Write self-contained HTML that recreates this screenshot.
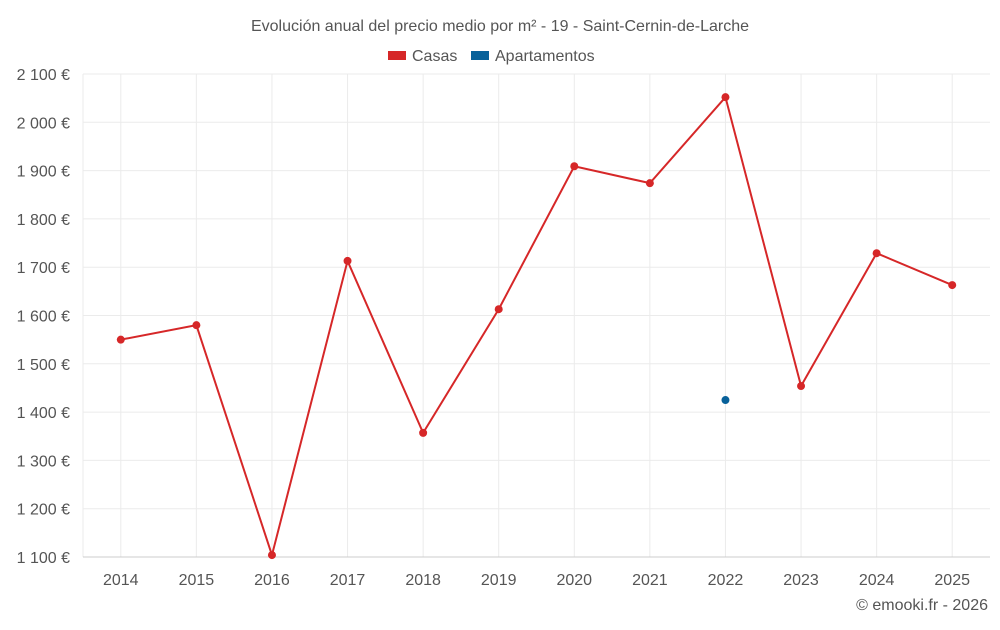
<!DOCTYPE html>
<html><head><meta charset="utf-8"><style>
body{margin:0;background:#fff;font-family:"Liberation Sans",sans-serif}
svg text{font-family:"Liberation Sans",sans-serif}
</style></head><body>
<svg id="chart" width="1000" height="625" xmlns="http://www.w3.org/2000/svg">
<text x="500" y="31" text-anchor="middle" font-size="16" fill="#555">Evolución anual del precio medio por m² - 19 - Saint-Cernin-de-Larche</text>
<g>
<g><rect x="388" y="51" width="18" height="9" fill="#d62728"/><text x="412" y="61" font-size="16" fill="#555">Casas</text></g>
<g><rect x="471" y="51" width="18" height="9" fill="#08619a"/><text x="495" y="61" font-size="16" fill="#555">Apartamentos</text></g>
</g>
<g id="grid"></g><g id="axes"></g><g id="series"></g>
<text x="988" y="610" text-anchor="end" font-size="16" fill="#555">© emooki.fr - 2026</text>
</svg>
<script>
const years=[2014,2015,2016,2017,2018,2019,2020,2021,2022,2023,2024,2025];
const casas=[1550,1580,1104,1713,1357,1613,1909,1874,2052,1454,1729,1663];
const apartamentos=[null,null,null,null,null,null,null,null,1425,null,null,null];
const yTicks=[1100,1200,1300,1400,1500,1600,1700,1800,1900,2000,2100];
const L=83,R=990,T=74,B=557,yMin=1100,yMax=2100;
const NS="http://www.w3.org/2000/svg";
const bw=(R-L)/years.length;
const x=i=>L+bw*(i+0.5);
const y=v=>B-(v-yMin)/(yMax-yMin)*(B-T);
function mk(t,a,p){const e=document.createElementNS(NS,t);for(const k in a)e.setAttribute(k,a[k]);p.appendChild(e);return e;}
const grid=document.getElementById('grid'),axes=document.getElementById('axes'),ser=document.getElementById('series');
const fmt=v=>String(v).replace(/\B(?=(\d{3})+(?!\d))/g,' ')+' €';
yTicks.forEach(v=>{
 const l=mk('line',{x1:L,x2:R,y1:y(v),y2:y(v),stroke:'#ebebeb'},grid);
 
 
 const t=mk('text',{x:70,y:y(v)+6,'text-anchor':'end','font-size':16,fill:'#555'},axes);
 t.textContent=fmt(v);
 
 
});
mk('line',{x1:L,x2:L,y1:T,y2:B,stroke:'#ebebeb'},grid);
years.forEach((yr,i)=>{
 const l=mk('line',{x1:x(i),x2:x(i),y1:T,y2:B,stroke:'#ebebeb'},grid);
 
 
 const t=mk('text',{x:x(i),y:585,'text-anchor':'middle','font-size':16,fill:'#555'},axes);
 t.textContent=yr;
 
 
});
const ax=mk('line',{x1:L,x2:R,y1:B,y2:B,stroke:'#ccc'},axes);


const pts=casas.map((v,i)=>v==null?null:x(i)+','+y(v)).filter(Boolean).join(' ');
const pl=mk('polyline',{points:pts,fill:'none',stroke:'#d62728','stroke-width':2},ser);


casas.forEach((v,i)=>{if(v==null)return;
 const c=mk('circle',{cx:x(i),cy:y(v),r:4,fill:'#d62728'},ser);
 
 
});
apartamentos.forEach((v,i)=>{if(v==null)return;
 const c=mk('circle',{cx:x(i),cy:y(v),r:4,fill:'#08619a'},ser);
 
 
});
</script>
</body></html>
